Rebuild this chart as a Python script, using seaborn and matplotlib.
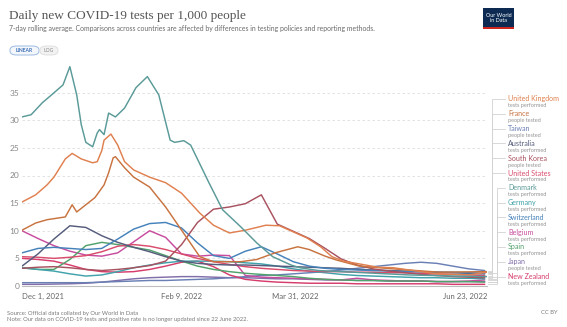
import numpy as np
import pandas as pd
import matplotlib
matplotlib.use("Agg")
import matplotlib.pyplot as plt
import seaborn as sns
from matplotlib.patches import FancyBboxPatch, Rectangle
from matplotlib.lines import Line2D

# ---------------- data ----------------
start_date = "2021-12-01"
end_date = "2022-06-23"
week_days = list(range(0, 204, 7))

countries = ["United Kingdom", "France", "Taiwan", "Australia", "South Korea",
             "United States", "Denmark", "Germany", "Switzerland", "Belgium",
             "Spain", "Japan", "New Zealand"]
metrics = ["tests performed", "people tested", "people tested", "tests performed",
           "people tested", "tests performed", "tests performed", "tests performed",
           "tests performed", "tests performed", "tests performed", "people tested",
           "tests performed"]
colors = ["#e0804f", "#c8733f", "#6a80b5", "#555c7c", "#a9525f",
          "#d94c6c", "#5a9a98", "#40a2aa", "#4582ba", "#c84c9e",
          "#52a26c", "#806ea9", "#d63d6c"]

uk_days = [0, 6, 11, 14, 19, 22, 26, 31, 33, 35, 36, 39, 42, 45, 49, 56, 63, 70, 78, 84,
           91, 98, 107, 113, 119, 125, 131, 136, 141, 148, 156, 163, 175, 182, 196, 204]
uk_vals = [15.2, 16.5, 18.3, 19.7, 23.0, 24.0, 23.0, 22.3, 22.5, 24.5, 26.4, 27.5, 25.5, 22.5,
           21.0, 19.7, 18.7, 16.8, 13.2, 11.0, 9.6, 10.1, 11.0, 10.9, 9.8, 8.7, 7.1, 5.3, 4.5,
           4.0, 3.4, 3.3, 2.6, 2.2, 2.0, 2.5]

fr_days = [0, 6, 11, 19, 22, 24, 28, 32, 36, 38, 40, 41, 45, 49, 56, 63, 72, 78, 84, 96,
           103, 111, 121, 126, 133, 138, 148, 166, 183, 204]
fr_vals = [10.1, 11.4, 12.0, 12.5, 14.7, 13.4, 14.7, 16.0, 18.3, 20.5, 23.2, 23.4, 21.4, 19.7,
           17.9, 14.3, 8.9, 5.3, 4.4, 4.4, 4.8, 6.0, 7.1, 6.6, 5.4, 4.7, 3.6, 3.0, 2.5, 2.6]

dk_days = [0, 4, 9, 13, 18, 21, 24, 26, 28, 31, 33, 34, 36, 38, 41, 45, 50, 55, 60, 65,
           67, 71, 74, 82, 88, 96, 103, 110, 118, 122, 130, 150, 170, 190, 204]
dk_vals = [30.6, 31.0, 33.2, 34.6, 36.4, 39.7, 34.6, 29.2, 26.0, 25.2, 27.7, 28.3, 27.4, 31.3,
           30.6, 32.2, 35.9, 37.9, 34.6, 26.4, 26.0, 26.3, 25.5, 18.7, 13.8, 10.7, 7.8, 5.3,
           3.8, 3.3, 2.8, 2.4, 2.0, 1.8, 1.7]

taiwan = [0.6, 0.6, 0.6, 0.6, 0.6, 0.7, 0.8, 0.9, 1.0, 1.0, 1.1, 1.2, 1.3, 1.5, 1.7,
          1.9, 2.0, 2.2, 2.4, 2.6, 2.9, 3.2, 3.5, 3.8, 4.1, 4.3, 4.1, 3.6, 3.1, 2.8]
australia = [3.6, 5.8, 8.5, 10.9, 10.6, 9.1, 7.9, 7.0, 6.2, 5.3, 4.5, 4.1, 3.9, 3.8, 3.8,
             3.7, 3.6, 3.5, 3.4, 3.3, 3.2, 3.0, 2.9, 2.8, 2.7, 2.6, 2.5, 2.4, 2.3, 2.2]
south_korea = [3.2, 3.4, 3.5, 3.3, 3.0, 2.8, 3.0, 3.3, 3.7, 4.5, 7.5, 11.5, 13.9, 14.3, 14.9,
               16.5, 11.2, 9.9, 8.6, 6.8, 4.9, 3.8, 3.1, 2.7, 2.4, 2.1, 1.9, 1.7, 1.6, 1.5]
united_states = [5.3, 5.2, 5.0, 5.2, 5.5, 6.2, 7.2, 7.5, 7.2, 6.6, 5.8, 5.0, 4.4, 3.9, 3.5,
                 3.2, 3.0, 2.8, 2.7, 2.6, 2.6, 2.5, 2.5, 2.4, 2.4, 2.3, 2.2, 2.1, 2.0, 1.9]
germany = [3.3, 3.0, 2.7, 2.2, 1.8, 2.0, 2.6, 3.3, 3.8, 4.2, 4.5, 4.5, 4.5, 4.4, 4.2,
           4.0, 3.6, 3.1, 2.7, 2.4, 2.1, 1.9, 1.8, 1.7, 1.6, 1.5, 1.5, 1.4, 1.4, 1.3]
switzerland = [6.0, 6.8, 7.0, 6.8, 6.6, 6.8, 8.5, 10.3, 11.3, 11.5, 10.5, 7.8, 5.5, 5.0, 6.3,
               7.1, 5.8, 4.4, 3.6, 3.2, 3.0, 2.9, 2.8, 2.7, 2.6, 2.6, 2.5, 2.5, 2.4, 2.3]
belgium = [10.0, 8.6, 7.3, 6.3, 5.6, 5.4, 6.0, 8.0, 10.0, 8.8, 5.8, 5.4, 5.6, 5.5, 1.9,
           1.6, 1.5, 1.4, 1.3, 1.2, 1.1, 1.4, 1.1, 1.0, 0.9, 0.9, 0.8, 0.8, 0.9, 1.1]
spain = [3.3, 3.0, 3.0, 4.8, 7.3, 7.9, 7.5, 7.0, 6.5, 5.5, 4.5, 3.6, 3.0, 2.6, 2.3,
         2.1, 1.9, 1.7, 1.4, 1.2, 1.1, 1.0, 1.0, 0.9, 0.9, 0.9, 0.8, 0.8, 0.8, 0.7]
japan = [0.3, 0.3, 0.35, 0.4, 0.5, 0.7, 1.0, 1.3, 1.5, 1.6, 1.7, 1.7, 1.6, 1.5, 1.5,
         1.4, 1.3, 1.3, 1.2, 1.1, 1.1, 1.0, 1.0, 0.9, 0.9, 0.9, 0.8, 0.8, 0.8, 0.8]
new_zealand = [5.0, 4.8, 4.5, 3.8, 3.0, 2.6, 2.5, 2.6, 3.0, 3.6, 4.3, 4.5, 3.5, 2.0, 1.2,
               0.9, 0.7, 0.6, 0.5, 0.5, 0.5, 0.4, 0.4, 0.4, 0.4, 0.4, 0.4, 0.3, 0.3, 0.3]

x_tick_dates = ["2021-12-01", "2022-02-09", "2022-03-31", "2022-06-23"]
x_tick_labels = ["Dec 1, 2021", "Feb 9, 2022", "Mar 31, 2022", "Jun 23, 2022"]
y_ticks = [0, 5, 10, 15, 20, 25, 30, 35]

# ---------------- build table ----------------
series = {
    "United Kingdom": (uk_days, uk_vals),
    "France": (fr_days, fr_vals),
    "Taiwan": (week_days, taiwan),
    "Australia": (week_days, australia),
    "South Korea": (week_days, south_korea),
    "United States": (week_days, united_states),
    "Denmark": (dk_days, dk_vals),
    "Germany": (week_days, germany),
    "Switzerland": (week_days, switzerland),
    "Belgium": (week_days, belgium),
    "Spain": (week_days, spain),
    "Japan": (week_days, japan),
    "New Zealand": (week_days, new_zealand),
}
t0 = pd.Timestamp(start_date)
frames = []
for name in countries:
    d, v = series[name]
    frames.append(pd.DataFrame({"date": t0 + pd.to_timedelta(d, unit="D"),
                                "value": v, "country": name}))
df = pd.concat(frames, ignore_index=True)

# ---------------- figure ----------------
sns.set_theme(style="white")
plt.rcParams["font.family"] = ["Lato", "DejaVu Sans"]

W, H = 567, 327
fig = plt.figure(figsize=(W / 100, H / 100), dpi=100)
ax_l, ax_r, ax_top, ax_bot = 22, 487, 65, 286
ax = fig.add_axes([ax_l / W, 1 - ax_bot / H, (ax_r - ax_l) / W, (ax_bot - ax_top) / H])

palette = dict(zip(countries, colors))
draw_order = ["Japan", "Taiwan", "New Zealand", "Belgium", "Spain", "Germany", "United States",
              "Australia", "Switzerland", "South Korea", "France", "United Kingdom", "Denmark"]
sns.lineplot(data=df, x="date", y="value", hue="country", hue_order=draw_order,
             palette=palette, legend=False, linewidth=1.05, estimator=None, ax=ax)

ax.set_xlim(pd.Timestamp(start_date), pd.Timestamp(end_date))
ax.set_ylim(0, 40)
ax.set_yticks(y_ticks)
ax.set_yticklabels([str(t) for t in y_ticks])
ax.set_xticks(pd.to_datetime(x_tick_dates))
ax.set_xticklabels(x_tick_labels)
ax.set_xlabel("")
ax.set_ylabel("")
for s in ["top", "right", "left"]:
    ax.spines[s].set_visible(False)
ax.spines["bottom"].set_color("#bdbdbd")
ax.spines["bottom"].set_linewidth(0.8)
ax.grid(axis="y", color="#dddddd", linestyle=(0, (3, 3)), linewidth=0.6)
ax.grid(axis="x", visible=False)
ax.set_axisbelow(True)
ax.tick_params(axis="y", length=0, pad=2, labelsize=6, labelcolor="#888888")
ax.tick_params(axis="x", length=2, width=0.6, color="#bdbdbd", pad=3, labelsize=5.6,
               labelcolor="#666666")
xl = ax.get_xticklabels()
xl[0].set_ha("left")
xl[-1].set_ha("right")

# ---------------- header ----------------
fig.text(9 / W, 1 - 16 / H, "Daily new COVID-19 tests per 1,000 people",
         family=["Liberation Serif", "DejaVu Serif"], fontsize=9.5, color="#555555",
         va="center", ha="left")
fig.text(9 / W, 1 - 29 / H,
         "7-day rolling average. Comparisons across countries are affected by differences in testing policies and reporting methods.",
         fontsize=4.95, color="#6a6a6a", va="center", ha="left")

# LINEAR / LOG toggle
b1 = FancyBboxPatch((10 / W, 1 - 55 / H), 29 / W, 9 / H,
                    boxstyle="round,pad=0,rounding_size=0.012", transform=fig.transFigure,
                    facecolor="#f3f7fc", edgecolor="#9dbbe3", linewidth=0.7)
b2 = FancyBboxPatch((40 / W, 1 - 55 / H), 18 / W, 9 / H,
                    boxstyle="round,pad=0,rounding_size=0.012", transform=fig.transFigure,
                    facecolor="#f2f2f2", edgecolor="#dddddd", linewidth=0.6)
fig.patches.extend([b1, b2])
fig.text(24.5 / W, 1 - 50.5 / H, "LINEAR", fontsize=3.6, color="#3b6fb6", ha="center",
         va="center", weight="bold")
fig.text(49 / W, 1 - 50.5 / H, "LOG", fontsize=3.6, color="#888888", ha="center", va="center")

# logo
logo = Rectangle((483 / W, 1 - 29 / H), 31 / W, 21 / H, transform=fig.transFigure,
                 facecolor="#0c2a52", edgecolor="none")
logo_red = Rectangle((483 / W, 1 - 29 / H), 31 / W, 1.6 / H, transform=fig.transFigure,
                     facecolor="#ce261e", edgecolor="none")
fig.patches.extend([logo, logo_red])
fig.text(498.5 / W, 1 - 18 / H, "Our World\nin Data", fontsize=3.9, color="white",
         ha="center", va="center", linespacing=1.0)

# ---------------- right-hand labels ----------------
label_x = 508
y0, dy = 99, 14.8
px_per_unit = (ax_bot - ax_top) / 40.0
for i, name in enumerate(countries):
    yl = y0 + dy * i
    end_val = series[name][1][-1]
    ye = ax_bot - end_val * px_per_unit
    xv = 492 if i < 6 else 497
    xs = [ax_r + 1, xv, xv, 505]
    ys = [ye, ye, yl, yl]
    fig.add_artist(Line2D([x / W for x in xs], [1 - y / H for y in ys],
                          transform=fig.transFigure, color="#d2d2d2", linewidth=0.6))
    fig.text(label_x / W, 1 - yl / H, name, fontsize=5.1, color=colors[i],
             ha="left", va="center")
    fig.text(label_x / W, 1 - (yl + 6.8) / H, metrics[i], fontsize=4.0, color="#939393",
             ha="left", va="center")

# ---------------- footer ----------------
fig.text(7 / W, 1 - 313 / H, "Source: Official data collated by Our World in Data",
         fontsize=4.2, color="#7a7a7a", ha="left", va="center")
fig.text(7 / W, 1 - 319.5 / H,
         "Note: Our data on COVID-19 tests and positive rate is no longer updated since 22 June 2022.",
         fontsize=4.2, color="#7a7a7a", ha="left", va="center")
fig.text(558 / W, 1 - 313 / H, "CC BY", fontsize=4.2, color="#7a7a7a", ha="right", va="center")

fig.savefig("out.png", dpi=100)
